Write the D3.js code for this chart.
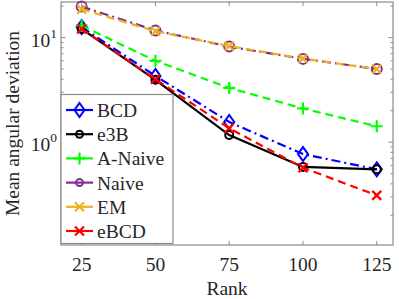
<!DOCTYPE html>
<html>
<head>
<meta charset="utf-8">
<script src="https://cdn.jsdelivr.net/npm/d3@7"></script>
<style>
  body { margin: 0; background: #fff; }
  text { font-family: "Liberation Serif", "Times New Roman", serif; fill: #262626; }
</style>
</head>
<body>
<div id="chart"></div>
<script>
const ranks = [25, 50, 75, 100, 125];
const seriesNames = ['BCD', 'e3B', 'A-Naive', 'Naive', 'EM', 'eBCD'];
const bcd = [12.6, 4.3, 1.56, 0.77, 0.55];
const e3b = [12.1, 3.95, 1.17, 0.58, 0.55];
const aNaive = [13.0, 6.0, 3.3, 2.1, 1.42];
const naive = [19.8, 11.7, 8.2, 6.26, 5.02];
const em = [18.7, 11.5, 8.3, 6.3, 5.0];
const ebcd = [12.1, 4.0, 1.36, 0.57, 0.31];
const xTicks = [25, 50, 75, 100, 125];
const yTicks = [1, 10];

const width = 399, height = 299;
const margin = { top: 2, right: 6, bottom: 54, left: 61 };

// style per series, same order as names
const styles = [
    { color: '#0000ff', dash: '9,4,2,4', marker: 'diamond', size: 7 },
    { color: '#000000', dash: null, marker: 'circle', size: 4 },
    { color: '#00ff00', dash: '8,5', marker: 'plus', size: 6 },
    { color: '#7e2f8e', dash: '9,4,2,4', marker: 'circle', size: 5 },
    { color: '#edb120', dash: '8,5', marker: 'cross', size: 4.5 },
    { color: '#ff0000', dash: '8,5', marker: 'cross', size: 4.5 },
];
const values = [bcd, e3b, aNaive, naive, em, ebcd];

const svg = d3.select('#chart').append('svg')
    .attr('width', width)
    .attr('height', height);

const x = d3.scaleLinear()
    .domain([18, 130.5])
    .range([margin.left, width - margin.right]);
const y = d3.scaleLog()
    .domain([0.104, 21.9])
    .range([height - margin.bottom, margin.top]);

const x0 = x.range()[0], x1 = x.range()[1];
const y0 = y.range()[0], y1 = y.range()[1];
const axisColor = '#8a8a8a';

// box
svg.append('rect')
    .attr('x', x0).attr('y', y1)
    .attr('width', x1 - x0).attr('height', y0 - y1)
    .style('fill', 'none')
    .style('stroke', axisColor)
    .style('stroke-width', 1.2);

// x ticks, inside, bottom and top
const tickG = svg.append('g').style('stroke', axisColor).style('stroke-width', 1);
xTicks.forEach(t => {
    tickG.append('line').attr('x1', x(t)).attr('x2', x(t)).attr('y1', y0).attr('y2', y0 - 4);
    tickG.append('line').attr('x1', x(t)).attr('x2', x(t)).attr('y1', y1).attr('y2', y1 + 4);
});
// y ticks, major and minor, left and right
const minor = [];
[0.1, 1, 10].forEach(dec => {
    for (let k = 1; k <= 9; k++) {
        const v = dec * k;
        if (v >= y.domain()[0] && v <= y.domain()[1]) minor.push(v);
    }
});
minor.forEach(v => {
    const len = yTicks.includes(v) ? 4.5 : 2.5;
    tickG.append('line').attr('x1', x0).attr('x2', x0 + len).attr('y1', y(v)).attr('y2', y(v));
    tickG.append('line').attr('x1', x1).attr('x2', x1 - len).attr('y1', y(v)).attr('y2', y(v));
});

// tick labels
svg.append('g').selectAll('text')
    .data(xTicks)
    .enter().append('text')
    .attr('x', d => x(d))
    .attr('y', 271)
    .attr('text-anchor', 'middle')
    .style('font-size', '19.5px')
    .text(d => d);

const yLab = svg.append('g').selectAll('text')
    .data(yTicks)
    .enter().append('text')
    .attr('x', 57)
    .attr('y', d => y(d) + 9)
    .attr('text-anchor', 'end')
    .style('font-size', '19.5px');
yLab.append('tspan').text('10');
yLab.append('tspan')
    .attr('dy', -9)
    .style('font-size', '13.5px')
    .text(d => Math.round(Math.log10(d)));

// axis titles
svg.append('text')
    .attr('x', (x0 + x1) / 2)
    .attr('y', 295)
    .attr('text-anchor', 'middle')
    .style('font-size', '19.5px')
    .text('Rank');
svg.append('text')
    .attr('transform', `translate(19, ${(y0 + y1) / 2}) rotate(-90)`)
    .attr('text-anchor', 'middle')
    .style('font-size', '19.5px')
    .text('Mean angular deviation');

function drawMarker(g, type, cx, cy, s, color) {
    if (type === 'diamond') {
        g.append('path')
            .attr('d', `M${cx},${cy - s}L${cx + s * 0.72},${cy}L${cx},${cy + s}L${cx - s * 0.72},${cy}Z`)
            .style('fill', 'none').style('stroke', color).style('stroke-width', 2);
    } else if (type === 'circle') {
        g.append('circle').attr('cx', cx).attr('cy', cy).attr('r', s)
            .style('fill', 'none').style('stroke', color).style('stroke-width', 2);
    } else if (type === 'plus') {
        g.append('path')
            .attr('d', `M${cx - s},${cy}H${cx + s}M${cx},${cy - s}V${cy + s}`)
            .style('stroke', color).style('stroke-width', 2.2);
    } else if (type === 'cross') {
        g.append('path')
            .attr('d', `M${cx - s},${cy - s}L${cx + s},${cy + s}M${cx - s},${cy + s}L${cx + s},${cy - s}`)
            .style('stroke', color).style('stroke-width', 2.2);
    }
}

const line = d3.line()
    .x((d, i) => x(ranks[i]))
    .y(d => y(d));

const lines = svg.append('g');
values.forEach((vals, si) => {
    const st = styles[si];
    const g = lines.append('g');
    g.append('path')
        .datum(vals)
        .attr('d', line)
        .style('fill', 'none')
        .style('stroke', st.color)
        .style('stroke-width', 2.2)
        .style('stroke-dasharray', st.dash);
    vals.forEach((v, i) => drawMarker(g, st.marker, x(ranks[i]), y(v), st.size, st.color));
});

// legend
const legend = svg.append('g');
legend.append('rect')
    .attr('x', 61).attr('y', 94.5)
    .attr('width', 112).attr('height', 149)
    .style('fill', '#fff')
    .style('stroke', axisColor)
    .style('stroke-width', 1.2);
seriesNames.forEach((name, i) => {
    const st = styles[i];
    const ly = 110 + i * 24.2;
    legend.append('line')
        .attr('x1', 66).attr('x2', 93).attr('y1', ly).attr('y2', ly)
        .style('stroke', st.color).style('stroke-width', 2.2);
    drawMarker(legend, st.marker, 79.5, ly, st.marker === 'circle' ? 3.5 : st.size, st.color);
    legend.append('text')
        .attr('x', 97).attr('y', ly + 7)
        .style('font-size', '19.5px')
        .text(name);
});
</script>
</body>
</html>
